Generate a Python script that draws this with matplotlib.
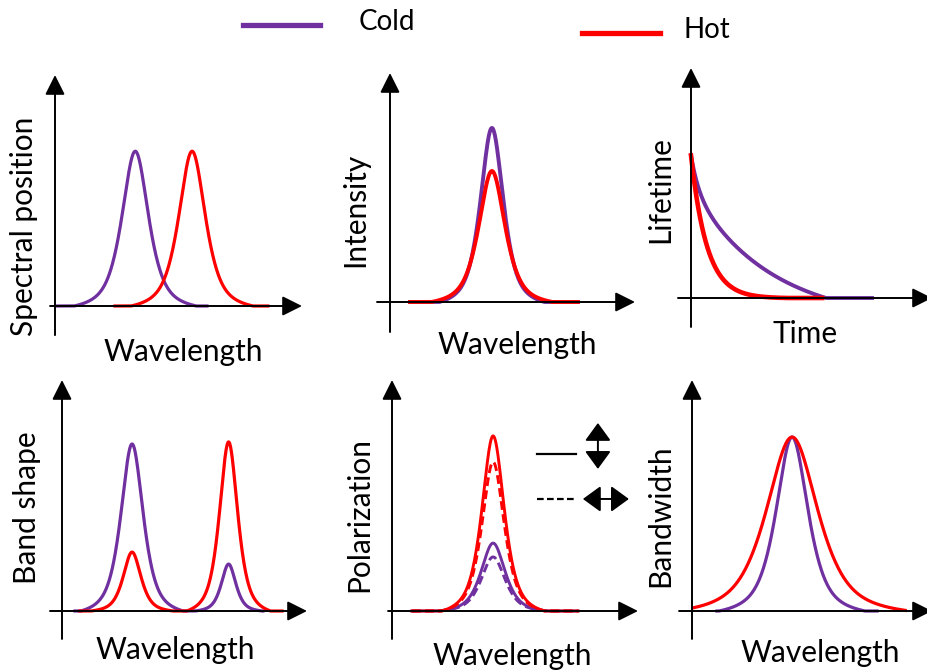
import numpy as np
import matplotlib
matplotlib.use("Agg")
import matplotlib.pyplot as plt
from matplotlib.lines import Line2D

plt.rcParams['font.family'] = ['Lato', 'DejaVu Sans']

W, H = 928, 670
COLD = '#7030A0'
HOT = '#FF0000'

# ---- values (axis units: 0..1 along each arrow) ----
# spectral position: cold, hot
spec_center = [0.325, 0.555]
spec_height = [0.67, 0.67]
spec_fwhm = [0.13, 0.13]
spec_span = [(0.01, 0.615), (0.243, 0.862)]

# intensity: cold, hot
int_center = [0.416, 0.416]
int_height = [0.76, 0.572]
int_fwhm = [0.113, 0.13]
int_span = [(0.082, 0.767), (0.082, 0.767)]

# lifetime: start level, fast/slow weights and decay constants
life_start = 0.62
cold_weights = [0.2, 0.8]
cold_taus = [0.033, 0.332]
hot_tau = 0.066
life_zero = [0.56, 0.40]    # where each decay meets the axis: cold, hot
life_end = [0.751, 0.544]   # cold, hot

# band shape: two bands, cold and hot
band_center = [0.286, 0.68]
band_cold_height = [0.723, 0.203]
band_hot_height = [0.255, 0.732]
band_cold_fwhm = [0.11, 0.072]
band_hot_fwhm = [0.088, 0.09]
band_span = [(0.053, 0.82), (0.073, 0.898)]

# polarization: parallel (solid) and perpendicular (dashed)
pol_center = 0.411
pol_cold_height = [0.294, 0.234]
pol_hot_height = [0.758, 0.645]
pol_fwhm = [0.118, 0.11]   # cold, hot
pol_span = (0.081, 0.756)

# bandwidth: cold, hot
bw_center = 0.417
bw_height = 0.753
bw_fwhm = [0.16, 0.258]
bw_span = [(0.104, 0.771), (0.004, 0.888)]


def band(x, center, height, fwhm, eta=0.7, cut=3.8):
    d = (x - center) / (fwhm / 2)
    pv = eta / (1 + d ** 2) + (1 - eta) * np.exp(-np.log(2) * d ** 2)
    pc = eta / (1 + cut ** 2) + (1 - eta) * np.exp(-np.log(2) * cut ** 2)
    return height * np.clip((pv - pc) / (1 - pc), 0, None)


def decay(t, weights, taus, t_zero):
    f = sum(w * np.exp(-t / tau) for w, tau in zip(weights, taus))
    fz = sum(w * np.exp(-t_zero / tau) for w, tau in zip(weights, taus))
    return np.clip((f - fz) / (1 - fz), 0, None)


def make_axes(fig, left, bottom, right, top, xneg, yneg):
    ax = fig.add_axes([left / W, 1 - bottom / H, (right - left) / W, (bottom - top) / H])
    ax.set_xlim(0, 1)
    ax.set_ylim(0, 1)
    ax.axis('off')
    style = dict(arrowstyle='-|>,head_length=1.2,head_width=0.6', lw=1.4,
                 color='black', shrinkA=0, shrinkB=0)
    ax.annotate('', xy=(0, 1), xytext=(0, yneg), xycoords='axes fraction',
                arrowprops=style, annotation_clip=False)
    ax.annotate('', xy=(1, 0), xytext=(xneg, 0), xycoords='axes fraction',
                arrowprops=style, annotation_clip=False)
    return ax


def label(fig, x, y, s, rot=0, size=21.5):
    fig.text(x / W, 1 - y / H, s, rotation=rot, ha='center', va='center', fontsize=size)


fig = plt.figure(figsize=(W / 100, H / 100), dpi=100)
lw = 2.3

# spectral position
ax = make_axes(fig, 55, 306, 302, 75, -0.02, -0.126)
for c, h, f, sp, col in zip(spec_center, spec_height, spec_fwhm, spec_span, [COLD, HOT]):
    x = np.linspace(sp[0], sp[1], 400)
    ax.plot(x, band(x, c, h, f), color=col, lw=lw, clip_on=False)
label(fig, 24, 226, 'Spectral position', 90)
label(fig, 183, 352, 'Wavelength')

# intensity
ax = make_axes(fig, 390, 302, 635, 73, -0.053, -0.131)
for c, h, f, sp, col in zip(int_center, int_height, int_fwhm, int_span, [COLD, HOT]):
    x = np.linspace(sp[0], sp[1], 400)
    ax.plot(x, band(x, c, h, f), color=col, lw=lw + 0.5, clip_on=False)
label(fig, 355, 210, 'Intensity', 90)
label(fig, 517, 345, 'Wavelength')

# lifetime
ax = make_axes(fig, 691, 298, 932, 68, -0.054, -0.126)
t = np.linspace(0, life_end[0], 500)
ax.plot(t, life_start * decay(t, cold_weights, cold_taus, life_zero[0]),
        color=COLD, lw=lw + 0.5, clip_on=False)
t = np.linspace(0, life_end[1], 500)
ax.plot(t, life_start * decay(t, [1.0], [hot_tau], life_zero[1]),
        color=HOT, lw=lw + 1.0, clip_on=False)
label(fig, 660, 190, 'Lifetime', 90)
label(fig, 805, 334, 'Time')

# band shape
ax = make_axes(fig, 62, 611, 307, 380, -0.049, -0.121)
x = np.linspace(band_span[0][0], band_span[0][1], 500)
y = sum(band(x, c, h, f) for c, h, f in zip(band_center, band_cold_height, band_cold_fwhm))
ax.plot(x, y, color=COLD, lw=lw, clip_on=False)
x = np.linspace(band_span[1][0], band_span[1][1], 500)
y = sum(band(x, c, h, f) for c, h, f in zip(band_center, band_hot_height, band_hot_fwhm))
ax.plot(x, y, color=HOT, lw=lw, clip_on=False)
label(fig, 27, 508, 'Band shape', 90)
label(fig, 175, 650, 'Wavelength')

# polarization
ax = make_axes(fig, 392, 611, 638, 380, -0.016, -0.121)
x = np.linspace(pol_span[0], pol_span[1], 400)
for heights, f, col in [(pol_cold_height, pol_fwhm[0], COLD), (pol_hot_height, pol_fwhm[1], HOT)]:
    ax.plot(x, band(x, pol_center, heights[1], f), color=col, lw=lw - 0.2,
            ls=(0, (3, 1.5)), clip_on=False)
    ax.plot(x, band(x, pol_center, heights[0], f), color=col, lw=lw - 0.2, clip_on=False)
ax.plot([0.589, 0.748], [0.68, 0.68], color='black', lw=1.6)
ax.plot([0.589, 0.748], [0.485, 0.485], color='black', lw=1.6, ls=(0, (3, 1.5)))
dbl = dict(arrowstyle='<|-|>,head_length=1.1,head_width=0.8', lw=1.4,
           color='black', shrinkA=0, shrinkB=0)
ax.annotate('', xy=(0.837, 0.814), xytext=(0.837, 0.615), arrowprops=dbl)
ax.annotate('', xy=(0.963, 0.485), xytext=(0.776, 0.485), arrowprops=dbl)
label(fig, 359, 515, 'Polarization', 90)
label(fig, 512, 656, 'Wavelength')

# bandwidth
ax = make_axes(fig, 692, 611, 932, 380, -0.054, -0.121)
for f, sp, col in zip(bw_fwhm, bw_span, [COLD, HOT]):
    x = np.linspace(sp[0], sp[1], 400)
    ax.plot(x, band(x, bw_center, bw_height, f), color=col, lw=lw, clip_on=False)
label(fig, 660, 516, 'Bandwidth', 90)
label(fig, 820, 653, 'Wavelength')

# legend
fig.add_artist(Line2D([243 / W, 320 / W], [1 - 25 / H, 1 - 25 / H], color=COLD, lw=3.8))
fig.add_artist(Line2D([582 / W, 660 / W], [1 - 33 / H, 1 - 33 / H], color=HOT, lw=3.8))
label(fig, 387, 22, 'Cold', size=20)
label(fig, 707, 30, 'Hot', size=20)

fig.savefig('out.png', dpi=100)
